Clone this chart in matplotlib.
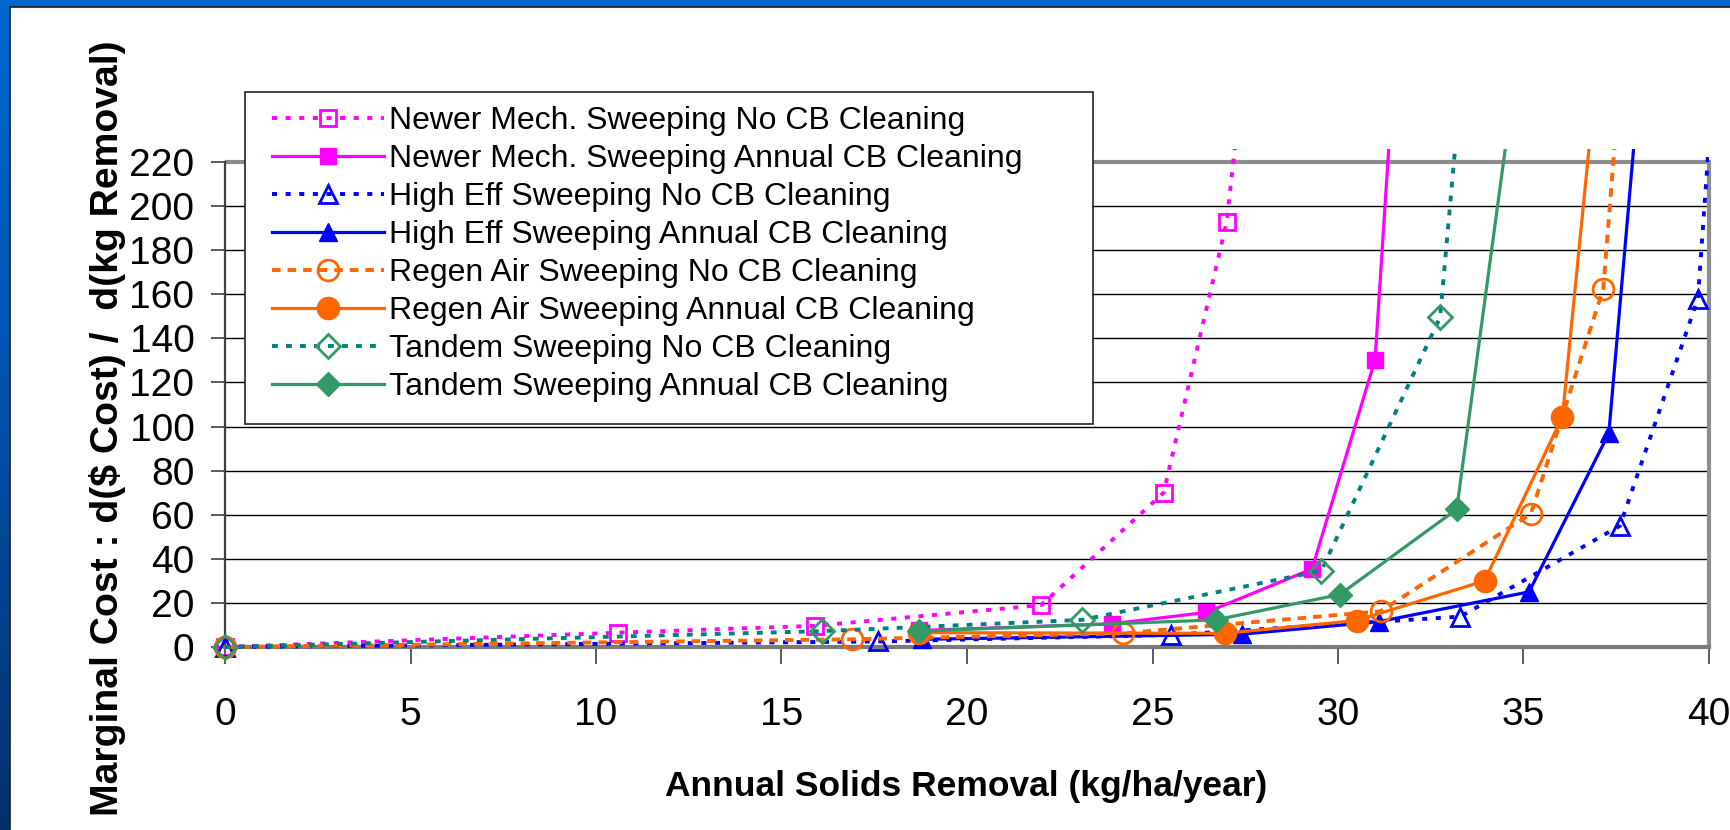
import numpy as np
import matplotlib.pyplot as plt
from matplotlib.patches import Rectangle
from matplotlib.colors import LinearSegmentedColormap

# values: x = annual solids removal, y = marginal cost
# (last point of each curve lies above the plotted range)
newer_no_x = [0, 10.6, 15.9, 22.0, 25.3, 27.0, 27.7]
newer_no_y = [0, 6.5, 9.6, 19.0, 70.0, 193.0, 300.0]
newer_an_x = [18.7, 23.9, 26.45, 29.3, 31.0, 31.65]
newer_an_y = [7.5, 10.5, 15.7, 35.4, 130.4, 300.0]
high_no_x = [0, 17.6, 25.5, 33.3, 37.6, 39.7, 40.3]
high_no_y = [0, 2.5, 5.5, 13.8, 55.0, 158.0, 300.0]
high_an_x = [18.8, 27.4, 31.1, 35.15, 37.3, 38.35]
high_an_y = [3.5, 5.8, 11.5, 25.0, 97.0, 300.0]
regen_no_x = [0, 16.9, 24.2, 31.15, 35.2, 37.15, 37.8]
regen_no_y = [0, 3.5, 6.2, 16.2, 60.5, 162.5, 300.0]
regen_an_x = [18.7, 26.95, 30.5, 33.95, 36.05, 37.2]
regen_an_y = [6.5, 6.2, 12.0, 30.0, 104.5, 300.0]
tandem_no_x = [0, 16.1, 23.1, 29.55, 32.75, 33.55]
tandem_no_y = [0, 7.2, 12.3, 34.6, 149.5, 300.0]
tandem_an_x = [18.7, 26.7, 30.05, 33.2, 35.1]
tandem_an_y = [7.2, 12.3, 23.8, 62.5, 300.0]

labels = ['Newer Mech. Sweeping No CB Cleaning',
          'Newer Mech. Sweeping Annual CB Cleaning',
          'High Eff Sweeping No CB Cleaning',
          'High Eff Sweeping Annual CB Cleaning',
          'Regen Air Sweeping No CB Cleaning',
          'Regen Air Sweeping Annual CB Cleaning',
          'Tandem Sweeping No CB Cleaning',
          'Tandem Sweeping Annual CB Cleaning']
x_ticks = [0, 5, 10, 15, 20, 25, 30, 35, 40]
y_ticks = [0, 20, 40, 60, 80, 100, 120, 140, 160, 180, 200, 220]

plt.rcParams['font.family'] = ['Liberation Sans', 'DejaVu Sans']

W, H = 1731, 830
fig = plt.figure(figsize=(W / 100, H / 100), dpi=100)

# blue slide frame + white panel
bg = fig.add_axes([0, 0, 1, 1], zorder=0)
cmap = LinearSegmentedColormap.from_list('slide', ['#0068D0', '#0052AA', '#03306A'])
bg.imshow(np.linspace(0, 1, 256).reshape(-1, 1), cmap=cmap, aspect='auto', extent=[0, 1, 0, 1])
bg.add_patch(Rectangle((10 / W, -0.02), 1, 1.02 - 7 / H, transform=bg.transAxes,
                       facecolor='white', edgecolor='#1a1a1a', lw=1.2))
bg.set_axis_off()

ax = fig.add_axes([225 / W, 1 - 647 / H, (1709 - 225) / W, (647 - 149.5) / H], zorder=2)
ax.set_xlim(0, 40)
ax.set_ylim(0, 225.7)

clip = Rectangle((-3, -15), 43, 240.7, transform=ax.transData)

dot = (0, (1.3, 2.2))
series = [
    (newer_no_x, newer_no_y, dict(color='#FF00FF', ls=dot, lw=2.8, marker='s', ms=11,
                                  mfc='none', mec='#FF00FF', mew=2)),
    (newer_an_x, newer_an_y, dict(color='#FF00FF', ls='-', lw=2.3, marker='s', ms=11,
                                  mfc='#FF00FF', mec='#FF00FF')),
    (high_no_x, high_no_y, dict(color='#0000FF', ls=dot, lw=2.8, marker='^', ms=13,
                                mfc='none', mec='#0000FF', mew=2)),
    (high_an_x, high_an_y, dict(color='#0000FF', ls='-', lw=2.3, marker='^', ms=13,
                                mfc='#0000FF', mec='#0000FF')),
    (regen_no_x, regen_no_y, dict(color='#FF6600', ls=(0, (2.2, 1.8)), lw=2.8, marker='o', ms=15,
                                  mfc='none', mec='#FF6600', mew=2)),
    (regen_an_x, regen_an_y, dict(color='#FF6600', ls='-', lw=2.3, marker='o', ms=16,
                                  mfc='#FF6600', mec='#FF6600')),
    (tandem_no_x, tandem_no_y, dict(color='#008080', ls=(0, (1.5, 2.1)), lw=2.8, marker='D', ms=12,
                                    mfc='none', mec='#339966', mew=2)),
    (tandem_an_x, tandem_an_y, dict(color='#339966', ls='-', lw=2.3, marker='D', ms=12,
                                    mfc='#339966', mec='#339966')),
]

handles = []
for (xs, ys, st), lab in zip(series, labels):
    ln, = ax.plot(xs, ys, label=lab, zorder=3, dash_capstyle='butt', **st)
    ln.set_clip_path(clip)
    handles.append(ln)

# grid and frame
ax.set_yticks(y_ticks)
ax.set_xticks(x_ticks)
ax.grid(axis='y', color='black', lw=1.0)
ax.set_axisbelow(True)
ax.axhline(220, color='#8c8c8c', lw=3, zorder=1.5)
ax.spines['top'].set_visible(False)
ax.spines['right'].set_color('#8c8c8c')
ax.spines['right'].set_linewidth(3)
ax.spines['right'].set_bounds(0, 220)
ax.spines['left'].set_color('#404040')
ax.spines['left'].set_linewidth(1.6)
ax.spines['left'].set_bounds(0, 220)
ax.spines['bottom'].set_color('#7a7a7a')
ax.spines['bottom'].set_linewidth(3)

ax.tick_params(axis='y', direction='out', length=10, width=1.2, color='#404040', pad=12, labelsize=28)
ax.tick_params(axis='x', direction='out', length=12, width=1.2, color='#404040', pad=24, labelsize=28)

fig.text(966 / W, 1 - 786 / H, 'Annual Solids Removal (kg/ha/year)', ha='center', va='center',
         fontsize=25.5, fontweight='bold')
fig.text(108 / W, 1 - 428 / H, 'Marginal Cost : d($ Cost) /  d(kg Removal)', ha='center', va='center',
         rotation=90, fontsize=28.2, fontweight='bold')

# legend box
fig.add_artist(Rectangle((245 / W, 1 - 424 / H), (1093 - 245) / W, (424 - 91.6) / H,
                         transform=fig.transFigure, facecolor='white', edgecolor='#222222',
                         lw=1.2, zorder=3))
fig.legend(handles, labels, loc='upper left', bbox_to_anchor=(272 / W, 1 - 106 / H),
           bbox_transform=fig.transFigure, frameon=False, numpoints=1,
           prop={'family': ['Liberation Sans', 'DejaVu Sans'], 'size': 23},
           handlelength=3.5, handletextpad=0.15, labelspacing=0.25, borderpad=0,
           borderaxespad=0).set_zorder(4)

fig.savefig('out.png', dpi=100)
